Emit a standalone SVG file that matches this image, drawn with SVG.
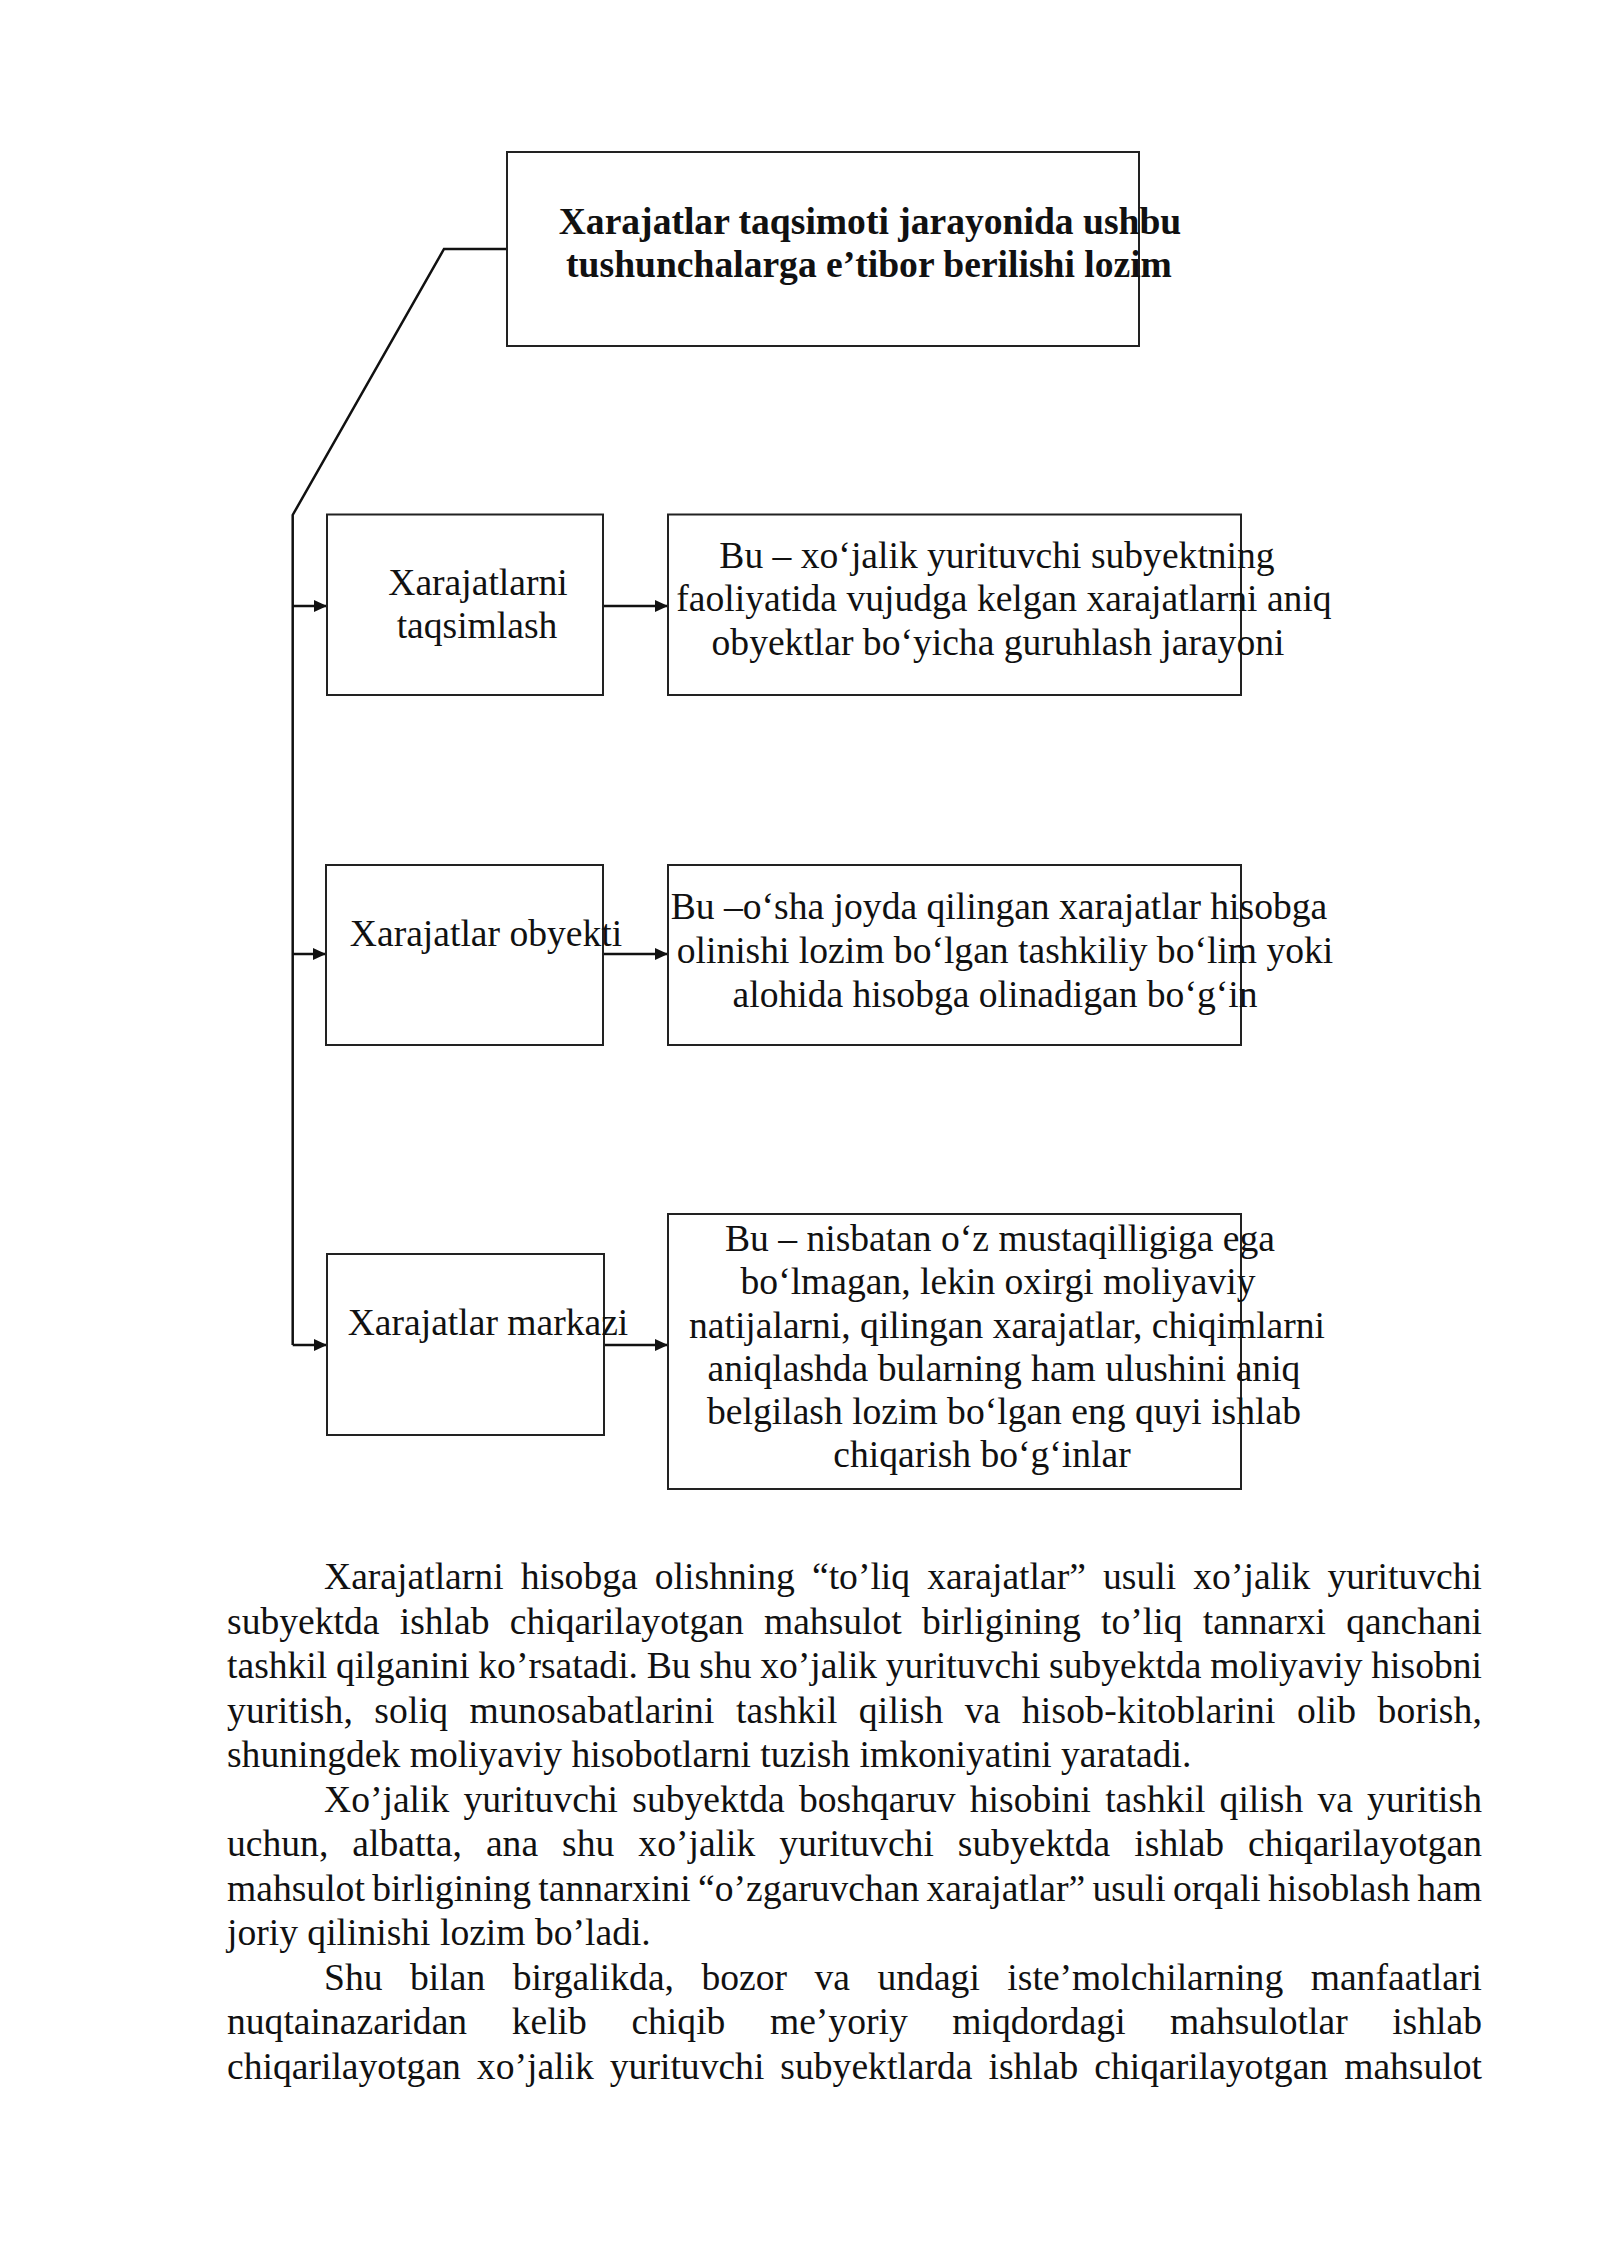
<svg xmlns="http://www.w3.org/2000/svg" width="1600" height="2262" viewBox="0 0 1600 2262">
<style>
text{font-family:"Liberation Serif","Times New Roman",serif;font-size:37.6px;fill:#111}
.b{font-weight:bold}
.m{text-anchor:middle}
.box{fill:none;stroke:#222;stroke-width:2}
.con{fill:none;stroke:#111;stroke-width:2.5}
</style>
<defs>
<marker id="ah" markerUnits="userSpaceOnUse" markerWidth="14" markerHeight="12" refX="13" refY="6" orient="auto">
<path d="M0,0 L13,6 L0,12 Z" fill="#111"/>
</marker>
</defs>
<rect width="1600" height="2262" fill="#fff"/>
<g id="connectors">
<polyline class="con" points="507,249 444,249 292.7,515 292.7,1345"/>
<line class="con" x1="292.7" y1="606" x2="327" y2="606" marker-end="url(#ah)"/>
<line class="con" x1="292.7" y1="954" x2="326" y2="954" marker-end="url(#ah)"/>
<line class="con" x1="292.7" y1="1345" x2="327" y2="1345" marker-end="url(#ah)"/>
<line class="con" x1="603" y1="606" x2="668" y2="606" marker-end="url(#ah)"/>
<line class="con" x1="603" y1="954" x2="668" y2="954" marker-end="url(#ah)"/>
<line class="con" x1="604" y1="1345" x2="668" y2="1345" marker-end="url(#ah)"/>
</g>
<g id="title">
<rect class="box" x="507" y="152" width="632" height="194"/>
<text class="b m" x="870" y="234">Xarajatlar taqsimoti jarayonida ushbu</text>
<text class="b m" x="869" y="277">tushunchalarga e’tibor berilishi lozim</text>
</g>
<g id="n1">
<rect class="box" x="327" y="514.5" width="276" height="180.5"/>
<text class="m" x="478" y="595">Xarajatlarni</text>
<text class="m" x="477" y="638">taqsimlash</text>
</g>
<g id="d1">
<rect class="box" x="668" y="514.5" width="573" height="180.5"/>
<text class="m" x="997" y="568">Bu – xo‘jalik yurituvchi subyektning</text>
<text class="m" x="1004" y="611">faoliyatida vujudga kelgan xarajatlarni aniq</text>
<text class="m" x="998" y="655">obyektlar bo‘yicha guruhlash jarayoni</text>
</g>
<g id="n2">
<rect class="box" x="326" y="865" width="277" height="180"/>
<text class="m" x="486" y="946">Xarajatlar obyekti</text>
</g>
<g id="d2">
<rect class="box" x="668" y="865" width="573" height="180"/>
<text class="m" x="999" y="919">Bu –o‘sha joyda qilingan xarajatlar hisobga</text>
<text class="m" x="1005" y="963">olinishi lozim bo‘lgan tashkiliy bo‘lim yoki</text>
<text class="m" x="995" y="1007">alohida hisobga olinadigan bo‘g‘in</text>
</g>
<g id="n3">
<rect class="box" x="327" y="1254" width="277" height="181"/>
<text class="m" x="488" y="1335">Xarajatlar markazi</text>
</g>
<g id="d3">
<rect class="box" x="668" y="1214" width="573" height="275"/>
<text class="m" x="1000" y="1251">Bu – nisbatan o‘z mustaqilligiga ega</text>
<text class="m" x="998" y="1294">bo‘lmagan, lekin oxirgi moliyaviy</text>
<text class="m" x="1007" y="1338">natijalarni, qilingan xarajatlar, chiqimlarni</text>
<text class="m" x="1004" y="1381">aniqlashda bularning ham ulushini aniq</text>
<text class="m" x="1004" y="1424">belgilash lozim bo‘lgan eng quyi ishlab</text>
<text class="m" x="982" y="1467">chiqarish bo‘g‘inlar</text>
</g>
<g id="body">
<text x="324" y="1589" word-spacing="7.7" textLength="1158" lengthAdjust="spacing">Xarajatlarni hisobga olishning “to’liq xarajatlar” usuli xo’jalik yurituvchi</text>
<text x="227" y="1633.5" word-spacing="10.8" textLength="1255" lengthAdjust="spacing">subyektda ishlab chiqarilayotgan mahsulot birligining to’liq tannarxi qanchani</text>
<text x="227" y="1678" word-spacing="-0.7" textLength="1255" lengthAdjust="spacing">tashkil qilganini ko’rsatadi. Bu shu xo’jalik yurituvchi subyektda moliyaviy hisobni</text>
<text x="227" y="1722.5" word-spacing="11.6" textLength="1255" lengthAdjust="spacing">yuritish, soliq munosabatlarini tashkil qilish va hisob-kitoblarini olib borish,</text>
<text x="227" y="1767">shuningdek moliyaviy hisobotlarni tuzish imkoniyatini yaratadi.</text>
<text x="324" y="1811.5" word-spacing="4.8" textLength="1158" lengthAdjust="spacing">Xo’jalik yurituvchi subyektda boshqaruv hisobini tashkil qilish va yuritish</text>
<text x="227" y="1856" word-spacing="14.6" textLength="1255" lengthAdjust="spacing">uchun, albatta, ana shu xo’jalik yurituvchi subyektda ishlab chiqarilayotgan</text>
<text x="227" y="1900.5" word-spacing="-2.1" textLength="1255" lengthAdjust="spacing">mahsulot birligining tannarxini “o’zgaruvchan xarajatlar” usuli orqali hisoblash ham</text>
<text x="227" y="1945">joriy qilinishi lozim bo’ladi.</text>
<text x="324" y="1989.5" word-spacing="18" textLength="1158" lengthAdjust="spacing">Shu bilan birgalikda, bozor va undagi iste’molchilarning manfaatlari</text>
<text x="227" y="2034" word-spacing="35.1" textLength="1255" lengthAdjust="spacing">nuqtainazaridan kelib chiqib me’yoriy miqdordagi mahsulotlar ishlab</text>
<text x="227" y="2078.5" word-spacing="6.6" textLength="1255" lengthAdjust="spacing">chiqarilayotgan xo’jalik yurituvchi subyektlarda ishlab chiqarilayotgan mahsulot</text>
</g>
</svg>
